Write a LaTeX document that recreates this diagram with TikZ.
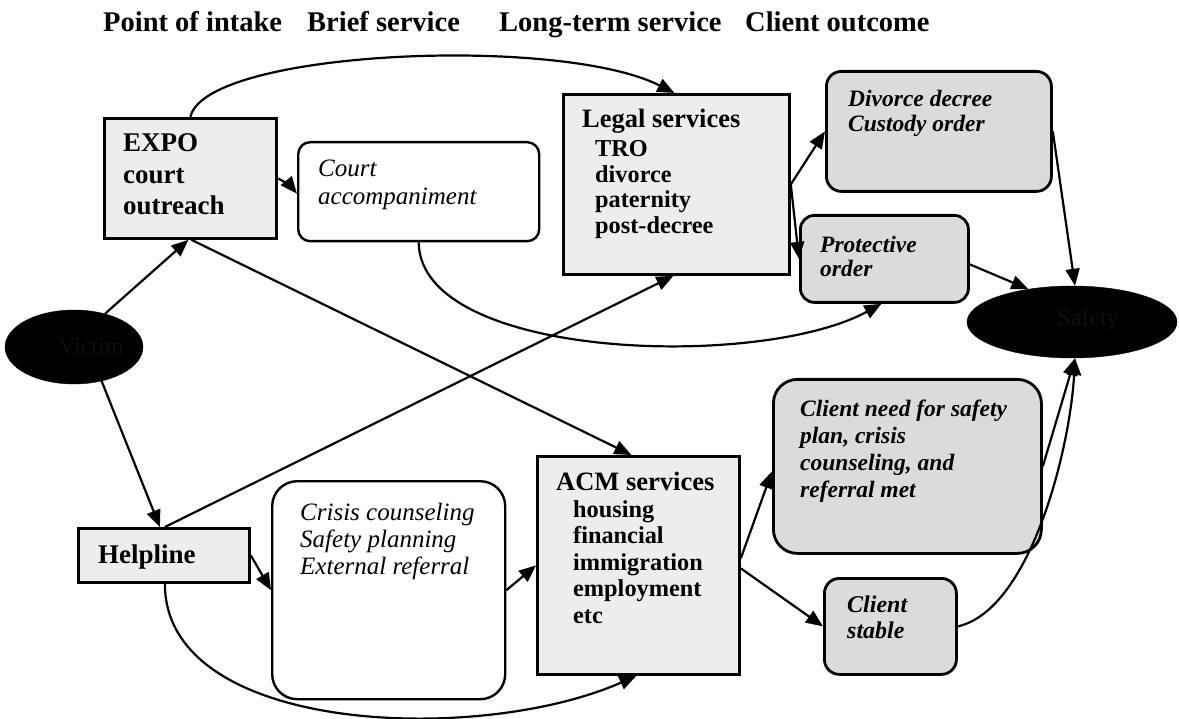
\documentclass[tikz,border=0pt]{standalone}
\usepackage{fontspec}
\setmainfont{Liberation Serif}
\usetikzlibrary{arrows.meta,shapes.geometric}
\begin{document}
\begin{tikzpicture}[x=1pt,y=-1pt,
  svc/.style={draw, line width=2.8pt, fill=gray!14, inner sep=0pt, anchor=north west},
  brief/.style={draw, line width=2.4pt, fill=white, inner sep=0pt, anchor=north west},
  outc/.style={draw, line width=2.8pt, fill=gray!28, inner sep=0pt, anchor=north west},
  blob/.style={ellipse, fill=black, draw=black, inner sep=0pt},
  txt/.style={anchor=base west, inner sep=0pt},
  hd/.style={txt, font={\fontsize{28.5}{34}\selectfont\bfseries}},
  bigb/.style={txt, font={\fontsize{27}{31.5}\selectfont\bfseries}},
  itb/.style={txt, font={\fontsize{25}{28}\selectfont\itshape}},
  oit/.style={txt, font={\fontsize{23.5}{25}\selectfont\bfseries\itshape}},
  blobtxt/.style={font={\fontsize{24}{28}\selectfont}, text=gray!12!black},
  arr/.style={line width=2.2pt, -{Triangle[length=17pt,width=14pt]}},
]
\useasboundingbox (0,0) rectangle (1179,719);

% header
\node[hd] (h1) at (103,32) {Point of intake};
\node[hd] (h2) at (307,32) {Brief service};
\node[hd] (h3) at (499,32) {Long-term service};
\node[hd] (h4) at (745,32) {Client outcome};

% boxes
\node[svc, minimum width=172pt, minimum height=120pt] (expo) at (103,117) {};
\node[brief, rounded corners=12pt, minimum width=241pt, minimum height=99pt] (court) at (297,141) {};
\node[svc, minimum width=226pt, minimum height=180pt] (legal) at (562,93) {};
\node[outc, rounded corners=15pt, minimum width=225pt, minimum height=120pt] (divorce) at (825,70) {};
\node[outc, rounded corners=14pt, minimum width=168pt, minimum height=87pt] (protective) at (799,214) {};
\node[outc, rounded corners=24pt, minimum width=268pt, minimum height=174pt] (need) at (772,378) {};
\node[outc, rounded corners=15pt, minimum width=132pt, minimum height=96pt] (stable) at (823,577) {};
\node[svc, minimum width=202pt, minimum height=218pt] (acm) at (536,455) {};
\node[brief, rounded corners=25pt, minimum width=233pt, minimum height=218pt] (crisis) at (271,480) {};
\node[svc, minimum width=171pt, minimum height=54pt] (helpline) at (77,527) {};
\node[blob, minimum width=138pt, minimum height=74pt] (victim) at (74,347) {};
\node[blob, minimum width=210pt, minimum height=72pt] (safety) at (1072,322) {};

% texts
\node[blobtxt] (victimT) at (91,347) {Victim};
\node[blobtxt] (safetyT) at (1088,320) {Safety};
\node[bigb] (expoT) at (123,152) {\begin{tabular}[t]{@{}l@{}}EXPO\\court\\outreach\end{tabular}};
\node[itb] (courtT) at (318,177) {\begin{tabular}[t]{@{}l@{}}Court\\accompaniment\end{tabular}};
\node[txt, font={\fontsize{24.3}{25.5}\selectfont\bfseries}] (legalT) at (582,128)
  {\begin{tabular}[t]{@{}l@{}}{\fontsize{26.5}{28}\selectfont Legal services}\\[3.5pt]
  \hspace{13pt}TRO\\\hspace{13pt}divorce\\\hspace{13pt}paternity\\\hspace{13pt}post-decree\end{tabular}};
\node[oit] (divorceT) at (848,107) {\begin{tabular}[t]{@{}l@{}}Divorce decree\\Custody order\end{tabular}};
\node[oit, font={\fontsize{23.5}{24}\selectfont\bfseries\itshape}] (protectiveT) at (820,253) {\begin{tabular}[t]{@{}l@{}}Protective\\order\end{tabular}};
\node[oit, font={\fontsize{23.5}{27}\selectfont\bfseries\itshape}] (needT) at (800,417) {\begin{tabular}[t]{@{}l@{}}Client need for safety\\plan, crisis\\counseling, and\\referral met\end{tabular}};
\node[oit, font={\fontsize{24}{26}\selectfont\bfseries\itshape}] (stableT) at (847,612) {\begin{tabular}[t]{@{}l@{}}Client\\stable\end{tabular}};
\node[txt, font={\fontsize{24.3}{26.5}\selectfont\bfseries}] (acmT) at (556,490)
  {\begin{tabular}[t]{@{}l@{}}{\fontsize{26.5}{28}\selectfont ACM services}\\[0.5pt]
  \hspace{17pt}housing\\\hspace{17pt}financial\\\hspace{17pt}immigration\\\hspace{17pt}employment\\\hspace{17pt}etc\end{tabular}};
\node[itb, font={\fontsize{25}{27.5}\selectfont\itshape}] (crisisT) at (300,520) {\begin{tabular}[t]{@{}l@{}}Crisis counseling\\Safety planning\\External referral\end{tabular}};
\node[bigb] (helplineT) at (98,563) {Helpline};

% connectors
\draw[arr] (victim.47) -- ([xshift=-2pt]expo.south);
\draw[arr] (victim.-51) -- ([xshift=-4pt]helpline.north);
\draw[arr] (expo.north) .. controls (205,50) and (560,35) .. ([xshift=-2pt]legal.north);
\draw[arr] (expo.east) to[bend left=12] ([yshift=-2pt]court.west);
\draw[arr] ([xshift=1pt]expo.south) -- ([xshift=-7pt]acm.north);
\draw[arr] ([xshift=1pt]helpline.north) -- ([xshift=-3pt]legal.south);
\draw[arr] (helpline.east) -- (crisis.west);
\draw[arr] ([xshift=1pt]helpline.south) .. controls (165,735) and (480,745) .. ([xshift=-2pt]acm.south);
\draw[arr] (crisis.east) -- (acm.west);
\draw[arr] (court.south) .. controls (420,360) and (760,370) .. ([xshift=-3pt]protective.south);
\draw[arr] (legal.east) -- (divorce.west);
\draw[arr] (legal.east) -- (protective.west);
\draw[arr] (divorce.east) -- ([xshift=3pt]safety.north);
\draw[arr] ([yshift=-5.5pt]protective.east) -- (safety.143);
\draw[arr] (need.east) -- ([xshift=3pt]safety.south);
\draw[arr] (stable.east) .. controls (1030,610) and (1070,450) .. ([xshift=3pt]safety.south);
\draw[arr] ([yshift=7pt]acm.east) -- ([yshift=-5pt]need.west);
\draw[arr] ([yshift=-3pt]acm.east) -- (stable.west);
\end{tikzpicture}
\end{document}
